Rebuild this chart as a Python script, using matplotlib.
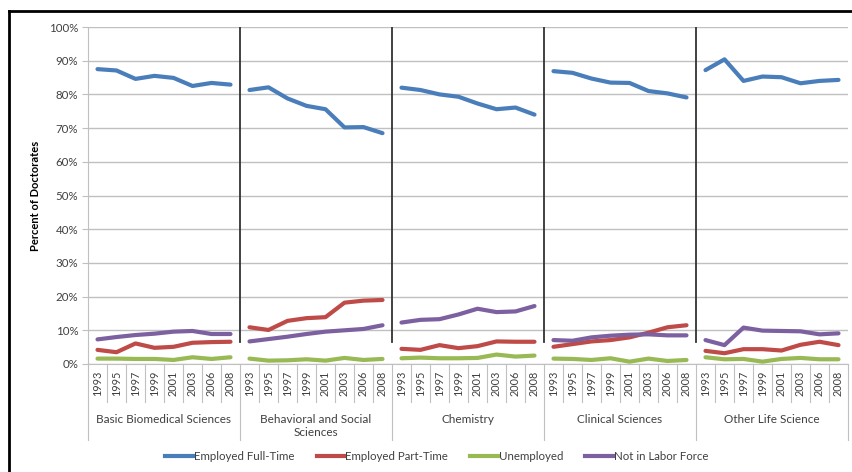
import matplotlib
matplotlib.use("Agg")
from matplotlib import pyplot as plt
from matplotlib.lines import Line2D
from matplotlib.ticker import PercentFormatter

plt.rcParams["font.family"] = ["Lato", "DejaVu Sans"]

groups = ["Basic Biomedical Sciences", "Behavioral and Social\nSciences",
          "Chemistry", "Clinical Sciences", "Other Life Science"]
years = ["1993", "1995", "1997", "1999", "2001", "2003", "2006", "2008"]
series_names = ["Employed Full-Time", "Employed Part-Time", "Unemployed", "Not in Labor Force"]

# one list of 8 values per field, in the order of groups
full_time = [
    [87.5, 87.1, 84.6, 85.5, 84.9, 82.5, 83.4, 82.9],
    [81.3, 82.1, 78.8, 76.6, 75.6, 70.2, 70.3, 68.5],
    [82.0, 81.3, 80.0, 79.3, 77.3, 75.6, 76.1, 74.0],
    [86.9, 86.4, 84.7, 83.5, 83.4, 81.0, 80.3, 79.1],
    [87.2, 90.4, 84.0, 85.3, 85.1, 83.3, 84.0, 84.3],
]
part_time = [
    [4.2, 3.5, 6.1, 4.8, 5.1, 6.3, 6.5, 6.6],
    [10.9, 10.1, 12.8, 13.6, 13.9, 18.2, 18.8, 19.0],
    [4.5, 4.2, 5.6, 4.7, 5.3, 6.7, 6.6, 6.6],
    [5.1, 5.9, 6.7, 7.1, 7.9, 9.3, 10.9, 11.5],
    [3.9, 3.2, 4.4, 4.4, 4.0, 5.7, 6.6, 5.6],
]
unemployed = [
    [1.6, 1.6, 1.5, 1.5, 1.2, 2.0, 1.5, 2.0],
    [1.6, 1.0, 1.1, 1.4, 1.0, 1.8, 1.2, 1.5],
    [1.7, 1.9, 1.7, 1.7, 1.8, 2.8, 2.2, 2.5],
    [1.6, 1.5, 1.2, 1.7, 0.7, 1.6, 0.9, 1.2],
    [2.0, 1.4, 1.5, 0.7, 1.5, 1.8, 1.4, 1.4],
]
not_in_lf = [
    [7.3, 8.0, 8.6, 9.0, 9.6, 9.8, 8.9, 8.9],
    [6.7, 7.4, 8.1, 8.9, 9.6, 10.0, 10.4, 11.5],
    [12.3, 13.1, 13.3, 14.7, 16.4, 15.4, 15.6, 17.2],
    [7.1, 6.9, 7.9, 8.4, 8.7, 8.8, 8.5, 8.5],
    [7.1, 5.6, 10.8, 9.9, 9.8, 9.7, 8.8, 9.1],
]
colors = ["#4A7EBB", "#BE4B48", "#98B954", "#7D60A0"]

text_col = "#404040"
grid_col = "#c0c0c0"

fig = plt.figure(figsize=(8.52, 4.72), dpi=100)
ax = fig.add_axes([88 / 852, 1 - 364 / 472, 760 / 852, 337 / 472])

n = len(years)
for g in range(len(groups)):
    xs = [g * n + k for k in range(n)]
    for vals, c in zip([full_time, part_time, unemployed, not_in_lf], colors):
        ax.plot(xs, vals[g], color=c, lw=3, solid_capstyle="round", zorder=3)
    # separators between groups inside the plot
    if g > 0:
        ax.plot([g * n - 0.5, g * n - 0.5], [6.5, 100], color="#333333", lw=1.3, zorder=2)

ax.set_xlim(-0.5, len(groups) * n - 0.5)
ax.set_ylim(0, 100)
ax.set_yticks(range(0, 101, 10))
ax.yaxis.set_major_formatter(PercentFormatter(decimals=0))
ax.yaxis.grid(True, color=grid_col, lw=1)
ax.set_axisbelow(True)
ax.tick_params(axis="y", length=4, color=grid_col, labelsize=8.3, labelcolor=text_col, pad=3)
ax.set_xticks([])
for s in ["top", "right"]:
    ax.spines[s].set_visible(False)
ax.spines["left"].set_color(grid_col)
ax.spines["bottom"].set_color(grid_col)
ax.set_ylabel("Percent of Doctorates", fontsize=8, fontweight="bold", color="black", labelpad=6)

# multi-level category axis
trans = ax.get_xaxis_transform()
short = -38 / 337
long = -76 / 337
for i in range(len(groups) * n + 1):
    x = i - 0.5
    y0 = long if i % n == 0 else short
    ax.plot([x, x], [0, y0], transform=trans, color=grid_col, lw=0.8, clip_on=False)
for g, name in enumerate(groups):
    for k, yr in enumerate(years):
        ax.text(g * n + k, -19 / 337, yr, transform=trans, rotation=90,
                ha="center", va="center", fontsize=7.8, color=text_col)
    ax.text(g * n + (n - 1) / 2, -50 / 337, name, transform=trans, ha="center", va="top",
            fontsize=8.5, color=text_col, linespacing=1.2)

handles = [Line2D([], [], color=c, lw=3) for c in colors]
fig.legend(handles, series_names, loc="center", bbox_to_anchor=(437 / 852, 1 - 457 / 472),
           ncol=4, frameon=False, fontsize=8.3, handlelength=2.4, handletextpad=0.1,
           columnspacing=1.9, labelcolor=text_col)

# outer frame (top and left edges visible)
fig.add_artist(Line2D([9 / 852, 1], [1 - 11 / 472, 1 - 11 / 472], color="black", lw=2))
fig.add_artist(Line2D([9 / 852, 9 / 852], [0, 1 - 11 / 472], color="black", lw=2))

fig.savefig("out.png", dpi=100)
